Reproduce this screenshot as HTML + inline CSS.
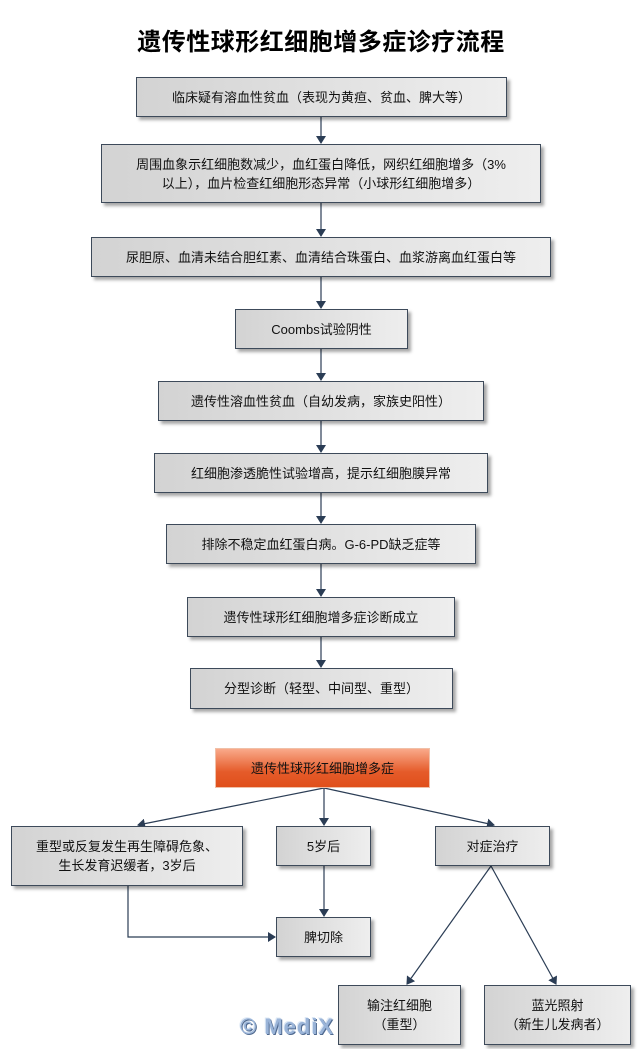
<!DOCTYPE html>
<html><head><meta charset="utf-8"><style>
body{margin:0;width:642px;height:1049px;background:#fff;position:relative;overflow:hidden;font-family:"Liberation Sans","Noto Sans CJK SC",sans-serif;}
.b{position:absolute;box-sizing:border-box;border:1px solid #3d4a5a;background:linear-gradient(90deg,#d3d3d3,#eeeeee);box-shadow:3px 3px 3px rgba(0,0,0,0.35);display:flex;align-items:center;justify-content:center;text-align:center;font-size:13px;color:#111;line-height:19px;}
.t{position:absolute;left:0;width:642px;top:22px;text-align:center;font-size:24px;font-weight:bold;letter-spacing:0.5px;}
svg{position:absolute;left:0;top:0;}
.o{background:linear-gradient(180deg,#f9a98a,#e55b2a 60%,#e04f1a);border:1px solid #f0c0a8;box-shadow:none;}
.wm{position:absolute;left:240px;top:1014px;font-size:22px;font-weight:bold;color:#9ab4d8;letter-spacing:1px;text-shadow:1px 1px 0 #506a90,-1px -1px 0 #dde8f5;}
</style></head><body>
<div class="t">遗传性球形红细胞增多症诊疗流程</div>
<svg width="642" height="1049">
<defs><marker id="a" markerWidth="8" markerHeight="10" refX="7" refY="5" orient="auto" markerUnits="userSpaceOnUse"><path d="M0,0 L8,5 L0,10 z" fill="#2b3d55"/></marker></defs>
<g stroke="#2b3d55" stroke-width="1.2" fill="none" marker-end="url(#a)">
<line x1="321" y1="117" x2="321" y2="143"/>
<line x1="321" y1="203" x2="321" y2="236"/>
<line x1="321" y1="277" x2="321" y2="308"/>
<line x1="321" y1="349" x2="321" y2="380"/>
<line x1="321" y1="421" x2="321" y2="452"/>
<line x1="321" y1="493" x2="321" y2="523"/>
<line x1="321" y1="564" x2="321" y2="596"/>
<line x1="321" y1="637" x2="321" y2="667"/>
<line x1="324" y1="788" x2="138" y2="825"/>
<line x1="324" y1="788" x2="324" y2="825"/>
<line x1="324" y1="788" x2="494" y2="825"/>
<line x1="324" y1="866" x2="324" y2="916"/>
<polyline points="128,886 128,937 275,937"/>
<line x1="491" y1="866" x2="407" y2="984"/>
<line x1="491" y1="866" x2="556" y2="984"/>
</g></svg>
<div class="b" style="left:136px;top:77px;width:371px;height:40px">临床疑有溶血性贫血（表现为黄疸、贫血、脾大等）</div>
<div class="b" style="left:101px;top:144px;width:440px;height:59px">周围血象示红细胞数减少，血红蛋白降低，网织红细胞增多（3%<br>以上），血片检查红细胞形态异常（小球形红细胞增多）</div>
<div class="b" style="left:91px;top:237px;width:460px;height:40px">尿胆原、血清未结合胆红素、血清结合珠蛋白、血浆游离血红蛋白等</div>
<div class="b" style="left:235px;top:309px;width:173px;height:40px">Coombs试验阴性</div>
<div class="b" style="left:158px;top:381px;width:326px;height:40px">遗传性溶血性贫血（自幼发病，家族史阳性）</div>
<div class="b" style="left:154px;top:453px;width:334px;height:40px">红细胞渗透脆性试验增高，提示红细胞膜异常</div>
<div class="b" style="left:166px;top:524px;width:310px;height:40px">排除不稳定血红蛋白病。G-6-PD缺乏症等</div>
<div class="b" style="left:187px;top:597px;width:268px;height:40px">遗传性球形红细胞增多症诊断成立</div>
<div class="b" style="left:190px;top:668px;width:263px;height:41px">分型诊断（轻型、中间型、重型）</div>
<div class="b o" style="left:215px;top:748px;width:215px;height:40px">遗传性球形红细胞增多症</div>
<div class="b" style="left:11px;top:826px;width:232px;height:60px">重型或反复发生再生障碍危象、<br>生长发育迟缓者，3岁后</div>
<div class="b" style="left:276px;top:826px;width:95px;height:40px">5岁后</div>
<div class="b" style="left:435px;top:826px;width:115px;height:40px">对症治疗</div>
<div class="b" style="left:276px;top:917px;width:95px;height:40px">脾切除</div>
<div class="b" style="left:338px;top:985px;width:123px;height:60px">输注红细胞<br>（重型）</div>
<div class="b" style="left:484px;top:985px;width:147px;height:60px">蓝光照射<br>（新生儿发病者）</div>
<div class="wm">© MediX</div>
</body></html>
